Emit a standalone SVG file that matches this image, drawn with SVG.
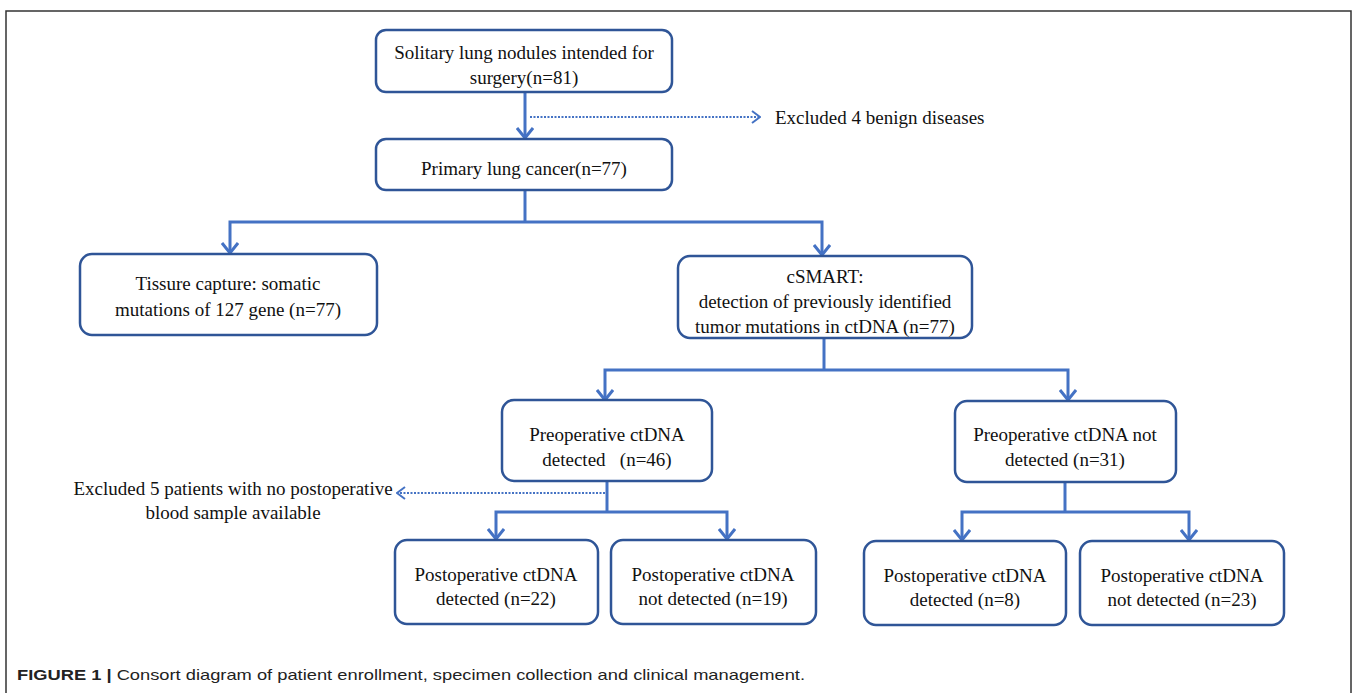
<svg xmlns="http://www.w3.org/2000/svg" width="1357" height="693" viewBox="0 0 1357 693">
<defs>
<style>
.box{fill:#fff;stroke:#2F5597;stroke-width:2.5}
.t{font-family:"Liberation Serif","Times New Roman",serif;font-size:19px;fill:#111;text-anchor:middle}
.tl{font-family:"Liberation Serif","Times New Roman",serif;font-size:19px;fill:#111}
.c{fill:none;stroke:#4472C4;stroke-width:3}
.d{fill:none;stroke:#4472C4;stroke-width:2;stroke-dasharray:2 1.5}
.cap{font-family:"Liberation Sans",Arial,sans-serif;font-size:15px;fill:#222}
</style>
<marker id="ah" viewBox="0 0 12 18" refX="11" refY="9" markerWidth="12" markerHeight="18" markerUnits="userSpaceOnUse" orient="auto">
<path d="M1,1 L11,9 L1,17" fill="none" stroke="#4472C4" stroke-width="3"/>
</marker>
<marker id="ahd" viewBox="0 0 10 14" refX="9" refY="7" markerWidth="10" markerHeight="14" markerUnits="userSpaceOnUse" orient="auto">
<path d="M1,1 L9,7 L1,13" fill="none" stroke="#4472C4" stroke-width="2"/>
</marker>
</defs>
<rect x="0" y="0" width="1357" height="693" fill="#fff"/>
<rect x="6" y="11" width="1345" height="685" fill="none" stroke="#333" stroke-width="1.5"/>

<g id="connectors">
<path class="c" d="M525,92 V138" marker-end="url(#ah)"/>
<path class="d" d="M530,117 H760" marker-end="url(#ahd)"/>
<path class="c" d="M525,190 V222"/>
<path class="c" d="M524,222 H230 V253" marker-end="url(#ah)"/>
<path class="c" d="M524,222 H822 V255" marker-end="url(#ah)"/>
<path class="c" d="M824,338 V370"/>
<path class="c" d="M824,370 H605 V400" marker-end="url(#ah)"/>
<path class="c" d="M824,370 H1068 V400" marker-end="url(#ah)"/>
<path class="c" d="M607,481 V512"/>
<path class="d" d="M605,493 H397" marker-end="url(#ahd)"/>
<path class="c" d="M607,512 H496 V539" marker-end="url(#ah)"/>
<path class="c" d="M607,512 H727 V539" marker-end="url(#ah)"/>
<path class="c" d="M1065,482 V512"/>
<path class="c" d="M1065,512 H962 V540" marker-end="url(#ah)"/>
<path class="c" d="M1065,512 H1189 V540" marker-end="url(#ah)"/>
</g>

<g id="n1">
<rect class="box" x="376" y="30" width="296" height="62" rx="10"/>
<text class="t" x="524" y="59">Solitary lung nodules intended for</text>
<text class="t" x="524" y="84">surgery(n=81)</text>
</g>
<g id="excl1">
<text class="tl" x="775" y="124">Excluded 4 benign diseases</text>
</g>
<g id="n2">
<rect class="box" x="376" y="139" width="296" height="51" rx="10"/>
<text class="t" x="524" y="175">Primary lung cancer(n=77)</text>
</g>
<g id="n3">
<rect class="box" x="80" y="254" width="297" height="81" rx="12"/>
<text class="t" x="228" y="290">Tissure capture: somatic</text>
<text class="t" x="228" y="316">mutations of 127 gene (n=77)</text>
</g>
<g id="n4">
<rect class="box" x="678" y="256" width="294" height="82" rx="12"/>
<text class="t" x="825" y="283">cSMART:</text>
<text class="t" x="825" y="308">detection of previously identified</text>
<text class="t" x="825" y="333">tumor mutations in ctDNA (n=77)</text>
</g>
<g id="n5">
<rect class="box" x="502" y="400" width="210" height="81" rx="12"/>
<text class="t" x="607" y="441">Preoperative ctDNA</text>
<text class="t" x="607" y="466" xml:space="preserve">detected   (n=46)</text>
</g>
<g id="n6">
<rect class="box" x="955" y="401" width="221" height="81" rx="12"/>
<text class="t" x="1065" y="441">Preoperative ctDNA not</text>
<text class="t" x="1065" y="466">detected (n=31)</text>
</g>
<g id="excl2">
<text class="t" x="233" y="495">Excluded 5 patients with no postoperative</text>
<text class="t" x="233" y="519">blood sample available</text>
</g>
<g id="n7">
<rect class="box" x="395" y="540" width="203" height="84" rx="12"/>
<text class="t" x="496" y="581">Postoperative ctDNA</text>
<text class="t" x="496" y="605">detected (n=22)</text>
</g>
<g id="n8">
<rect class="box" x="611" y="540" width="205" height="84" rx="12"/>
<text class="t" x="713" y="581">Postoperative ctDNA</text>
<text class="t" x="713" y="605">not detected (n=19)</text>
</g>
<g id="n9">
<rect class="box" x="864" y="541" width="202" height="84" rx="12"/>
<text class="t" x="965" y="582">Postoperative ctDNA</text>
<text class="t" x="965" y="606">detected (n=8)</text>
</g>
<g id="n10">
<rect class="box" x="1080" y="541" width="204" height="84" rx="12"/>
<text class="t" x="1182" y="582">Postoperative ctDNA</text>
<text class="t" x="1182" y="606">not detected (n=23)</text>
</g>
<g id="caption">
<text class="cap" x="17" y="680" textLength="788" lengthAdjust="spacingAndGlyphs"><tspan font-weight="bold">FIGURE 1 |</tspan> Consort diagram of patient enrollment, specimen collection and clinical management.</text>
</g>
</svg>
